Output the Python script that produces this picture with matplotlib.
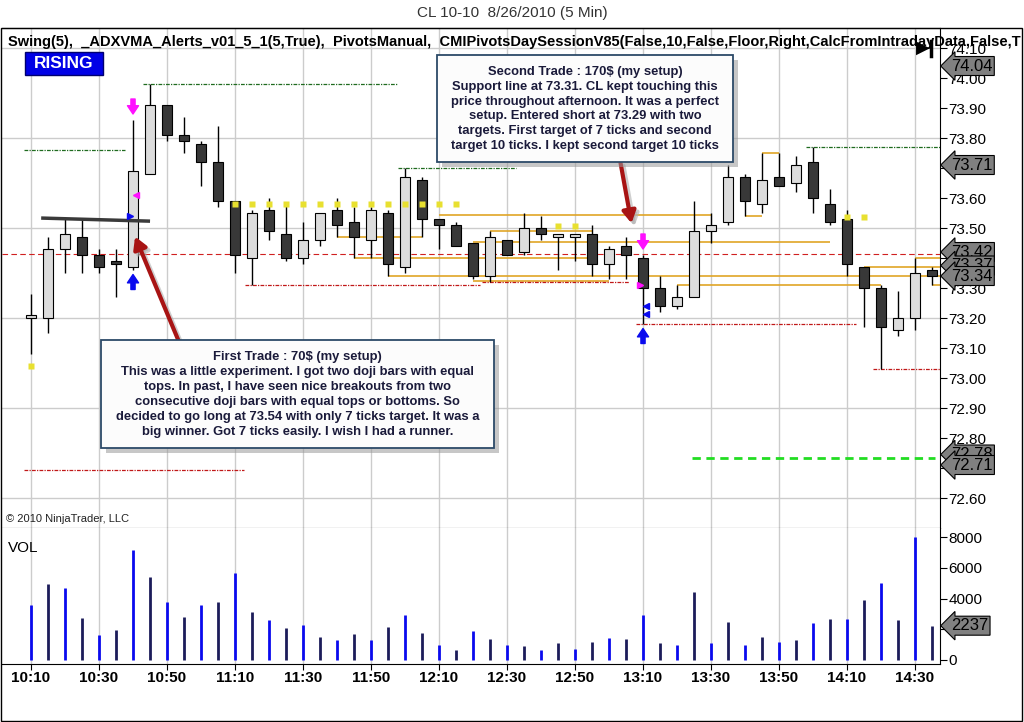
import numpy as np
import matplotlib
matplotlib.use('Agg')
import matplotlib.pyplot as plt
import matplotlib.patches as mpatches
import matplotlib.transforms as mtransforms
from matplotlib.lines import Line2D

plt.rcParams['font.family'] = ['Liberation Sans', 'DejaVu Sans']

# --- data, one bar per 5 minutes from 10:10 to 14:35 ---
opens = [73.20, 73.20, 73.43, 73.47, 73.41, 73.39, 73.37, 73.68, 73.91, 73.81,
         73.78, 73.72, 73.59, 73.40, 73.56, 73.48, 73.40, 73.46, 73.56, 73.52,
         73.46, 73.55, 73.37, 73.66, 73.53, 73.51, 73.45, 73.34, 73.46, 73.42,
         73.50, 73.47, 73.47, 73.48, 73.38, 73.44, 73.40, 73.30, 73.24, 73.27,
         73.49, 73.52, 73.67, 73.58, 73.67, 73.65, 73.72, 73.58, 73.53, 73.37,
         73.30, 73.16, 73.20, 73.36]
highs = [73.28, 73.47, 73.53, 73.53, 73.43, 73.43, 73.86, 73.98, 73.91, 73.87,
         73.79, 73.84, 73.59, 73.56, 73.60, 73.58, 73.52, 73.55, 73.60, 73.57,
         73.57, 73.56, 73.70, 73.67, 73.53, 73.52, 73.45, 73.49, 73.46, 73.55,
         73.54, 73.48, 73.48, 73.51, 73.44, 73.47, 73.41, 73.34, 73.31, 73.59,
         73.55, 73.71, 73.68, 73.75, 73.75, 73.74, 73.77, 73.63, 73.56, 73.37,
         73.31, 73.29, 73.40, 73.37]
lows = [73.08, 73.15, 73.35, 73.35, 73.35, 73.27, 73.36, 73.68, 73.79, 73.75,
        73.64, 73.57, 73.35, 73.31, 73.46, 73.39, 73.38, 73.44, 73.47, 73.40,
        73.40, 73.34, 73.35, 73.47, 73.43, 73.44, 73.33, 73.32, 73.41, 73.41,
        73.46, 73.36, 73.39, 73.34, 73.33, 73.33, 73.18, 73.22, 73.23, 73.27,
        73.45, 73.51, 73.54, 73.55, 73.64, 73.62, 73.55, 73.51, 73.34, 73.17,
        73.03, 73.14, 73.16, 73.31]
closes = [73.21, 73.43, 73.48, 73.41, 73.37, 73.38, 73.69, 73.91, 73.81, 73.79,
          73.72, 73.59, 73.41, 73.55, 73.49, 73.40, 73.46, 73.55, 73.51, 73.47,
          73.56, 73.38, 73.67, 73.53, 73.51, 73.44, 73.34, 73.47, 73.41, 73.50,
          73.48, 73.48, 73.48, 73.38, 73.43, 73.41, 73.30, 73.24, 73.27, 73.49,
          73.51, 73.67, 73.59, 73.66, 73.64, 73.71, 73.60, 73.52, 73.38, 73.30,
          73.17, 73.20, 73.35, 73.34]
volumes = [3600, 4950, 4700, 2740, 1630, 1960, 7170, 5410, 3780, 2800,
           3590, 3780, 5670, 3130, 2610, 2090, 2280, 1500, 1300, 1700,
           1300, 2150, 2940, 1760, 980, 650, 1890, 1370, 980, 910,
           650, 1110, 720, 1170, 1440, 1370, 2940, 1110, 980, 4440,
           1110, 2480, 980, 1500, 1170, 1300, 2410, 2670, 2670, 3910,
           5020, 2610, 8020, 2237]
time_labels = ['10:10', '10:30', '10:50', '11:10', '11:30', '11:50', '12:10',
               '12:30', '12:50', '13:10', '13:30', '13:50', '14:10', '14:30']

# indicator levels: (first bar, last bar, price)
gold_levels = [(18, 23, 73.47), (19, 33, 73.40), (21, 54, 73.34), (24, 40, 73.545),
               (27, 33, 73.49), (26, 47, 73.455), (26, 34, 73.325), (38, 50, 73.31),
               (49, 54, 73.37), (52, 54, 73.40), (42, 43, 73.54), (43, 44, 73.75),
               (53, 54, 73.31)]
green_levels = [(-0.4, 5.5, 73.76), (6.6, 21.5, 73.98), (21.6, 28.5, 73.70),
                (45.6, 54, 73.77)]
red_levels = [(-0.4, 12.5, 72.693), (12.6, 26.4, 73.31), (26.5, 35.2, 73.32),
              (35.6, 48.5, 73.18), (49.5, 54, 73.03)]
pivot_line = 73.415
target_line = (38.9, 53.2, 72.733)
swing_high_bars = [12, 13, 14, 15, 16, 17, 18, 19, 20, 21, 22, 23, 24, 25, 31, 32, 48, 49]
swing_high_vals = [73.58] * 14 + [73.507, 73.507, 73.537, 73.537]
swing_low_bars = [0]
swing_low_vals = [73.04]
trend_line_x = [0.7, 6.9]
trend_line_y = [73.533, 73.523]
price_markers = ['74.04', '73.71', '73.42', '73.37', '73.34', '72.78', '72.71']
price_marker_y = [74.04, 73.71, 73.42, 73.375, 73.34, 72.745, 72.71]

W, H = 1024, 722


def fx(x):
    return x / W


def fy(y):
    return 1 - y / H


fig = plt.figure(figsize=(10.24, 7.22), dpi=100, facecolor='white')
ax = fig.add_axes([fx(2), fy(528), 938 / W, 500 / H])
vax = fig.add_axes([fx(2), fy(664), 938 / W, 136 / H])

n = len(opens)
x = np.arange(n)
xlim = (-1.706, 53.47)

# --- price panel ---
ax.set_xlim(*xlim)
ax.set_ylim(72.50, 74.1667)
for lvl in [72.6, 72.9, 73.2, 73.5, 73.8, 74.1]:
    ax.axhline(lvl, color='#cccccc', lw=1, zorder=0)
ax.set_xticks(np.arange(0, n, 4))
ax.grid(axis='x', color='#cccccc', lw=1, zorder=0)
ax.set_axisbelow(True)

ax.vlines(x, lows, highs, color='black', lw=1, zorder=3)
for i in range(n):
    lo, hi = min(opens[i], closes[i]), max(opens[i], closes[i])
    fc = '#dcdcdc' if closes[i] >= opens[i] else '#383838'
    ax.add_patch(mpatches.Rectangle((i - 0.3, lo), 0.6, max(hi - lo, 0.004),
                                    fc=fc, ec='black', lw=0.8, zorder=4))

for a, b, p in gold_levels:
    ax.hlines(p, a, b, color='#e0a526', lw=1.2, zorder=2)
for a, b, p in green_levels:
    ax.hlines(p, a, b, color='#1f6b1f', lw=0.9, linestyles=(0, (3, 1, 1, 1)), zorder=2)
for a, b, p in red_levels:
    ax.hlines(p, a, b, color='#c01818', lw=0.9, linestyles=(0, (3, 1, 1, 1)), zorder=2)
ax.axhline(pivot_line, color='#d02020', lw=0.8, ls=(0, (5, 3)), zorder=2)
ax.hlines(target_line[2], target_line[0], target_line[1], color='#22dd22', lw=2,
          linestyles=(0, (3, 2)), zorder=2)
ax.plot(swing_high_bars, swing_high_vals, 's', color='#e8e030', ms=4, mec='none', zorder=5)
ax.plot(swing_low_bars, swing_low_vals, 's', color='#e8e030', ms=4, mec='none', zorder=5)
ax.plot(trend_line_x, trend_line_y, color='#3a3a3a', lw=2.5, zorder=6)

# signal arrows
arrow_kw = dict(arrowstyle='simple,head_width=0.8,tail_width=0.3,head_length=0.6',
                mutation_scale=10, shrinkA=0, shrinkB=0)
ax.annotate('', xy=(6, 73.88), xytext=(6, 73.93),
            arrowprops=dict(color='#ff10ff', **arrow_kw), zorder=6)
ax.annotate('', xy=(36, 73.43), xytext=(36, 73.48),
            arrowprops=dict(color='#ff10ff', **arrow_kw), zorder=6)
ax.annotate('', xy=(6, 73.345), xytext=(6, 73.295),
            arrowprops=dict(color='#0a0aee', **arrow_kw), zorder=6)
ax.annotate('', xy=(36, 73.165), xytext=(36, 73.115),
            arrowprops=dict(color='#0a0aee', **arrow_kw), zorder=6)
ax.plot([6.15], [73.61], '<', color='#ff10ff', ms=5, zorder=6)
ax.plot([5.85], [73.54], '>', color='#0a0aee', ms=5, zorder=6)
ax.plot([35.8], [73.31], '>', color='#ff10ff', ms=5, zorder=6)
ax.plot([36.2, 36.2], [73.24, 73.215], '<', color='#0a0aee', ms=5, zorder=6)

yt = np.round(np.arange(72.6, 74.11, 0.1), 2)
ax.set_yticks(yt)
ax.set_yticklabels([f'{v:.2f}' for v in yt])
ax.tick_params(axis='y', left=False, labelleft=False, right=True, labelright=True,
               direction='out', length=5, pad=1, labelsize=11, colors='black')
ax.tick_params(axis='x', length=0, labelbottom=False)
ax.spines['left'].set_visible(False)

mtr = mtransforms.blended_transform_factory(ax.transAxes, ax.transData)
for lab, yv in zip(price_markers, price_marker_y):
    ax.text(1.0115, yv, lab, transform=mtr, fontsize=12, ha='left', va='center',
            clip_on=False, zorder=10,
            bbox=dict(boxstyle='larrow,pad=0.12', fc='#808080', ec='black', lw=0.8))

# --- volume panel ---
vax.set_xlim(*xlim)
vax.set_ylim(-261, 8606)
vcols = ['#0a0aee' if i % 2 == 0 else '#1c1c5a' for i in range(n)]
vax.vlines(x, 0, volumes, colors=vcols, lw=2, zorder=3)
vax.set_xticks(np.arange(0, n, 4))
vax.set_xticklabels(time_labels)
vax.grid(axis='x', color='#cccccc', lw=1, zorder=0)
vax.set_axisbelow(True)
vax.set_yticks([0, 2000, 4000, 6000, 8000])
vax.tick_params(axis='y', left=False, labelleft=False, right=True, labelright=True,
                direction='out', length=5, pad=1, labelsize=11)
vax.tick_params(axis='x', direction='out', length=4, pad=1, labelsize=11)
for lab in vax.get_xticklabels():
    lab.set_fontweight('bold')
vax.spines['left'].set_visible(False)
vax.spines['top'].set_visible(False)
vtr = mtransforms.blended_transform_factory(vax.transAxes, vax.transData)
vax.text(1.0115, volumes[-1], str(volumes[-1]), transform=vtr, fontsize=12, ha='left',
         va='center', clip_on=False, zorder=10,
         bbox=dict(boxstyle='larrow,pad=0.12', fc='#808080', ec='black', lw=0.8))
vax.text(0.0065, 0.85, 'VOL', transform=vax.transAxes, fontsize=11, ha='left', va='center')

# --- frame, header and overlays ---
fig.add_artist(mpatches.Rectangle((fx(1), fy(721)), 1021 / W, 693 / H, fill=False,
                                  ec='black', lw=1, transform=fig.transFigure, zorder=1))
fig.text(0.5, fy(13), 'CL 10-10  8/26/2010 (5 Min)', ha='center', va='center',
         fontsize=11, color='#333333')
fig.text(fx(8), fy(42), 'Swing(5),  _ADXVMA_Alerts_v01_5_1(5,True),  PivotsManual,  '
         'CMIPivotsDaySessionV85(False,10,False,Floor,Right,CalcFromIntradayData,False,T',
         ha='left', va='center', fontsize=10.5, fontweight='bold', zorder=8)
fig.add_artist(mpatches.Rectangle((fx(25), fy(75)), 78 / W, 23 / H, fc='#0000e6',
                                  ec='#000070', lw=1, transform=fig.transFigure, zorder=8))
fig.text(fx(64), fy(63.5), 'RISING', ha='center', va='center', fontsize=12.5,
         fontweight='bold', color='white', zorder=9)
fig.text(fx(916), fy(48), '▶', ha='left', va='center', fontsize=13, color='black', zorder=9)
fig.add_artist(Line2D([fx(931), fx(931)], [fy(41), fy(56)], color='black', lw=2.5,
                      transform=fig.transFigure, zorder=9))
fig.text(fx(6), fy(519), '© 2010 NinjaTrader, LLC', ha='left', va='center', fontsize=8,
         color='#222222', zorder=8)

# comment arrows
for (x0, y0), (x1, y1) in [((182, 349), (134, 234)), ((620, 160), (632, 226))]:
    fig.add_artist(mpatches.FancyArrowPatch((fx(x0 + 3), fy(y0 + 3)), (fx(x1 + 3), fy(y1 + 3)),
                                            transform=fig.transFigure,
                                            arrowstyle='-|>,head_length=7,head_width=4',
                                            color='#b0b0b0', lw=3, alpha=0.6, zorder=7))
    fig.add_artist(mpatches.FancyArrowPatch((fx(x0), fy(y0)), (fx(x1), fy(y1)),
                                            transform=fig.transFigure,
                                            arrowstyle='-|>,head_length=7,head_width=4',
                                            color='#a81414', lw=3, zorder=7.5))

notes = [
    ((101, 340, 494, 448),
     'First Trade : 70$ (my setup)\n'
     'This was a little experiment. I got two doji bars with equal\n'
     'tops. In past, I have seen nice breakouts from two\n'
     'consecutive doji bars with equal tops or bottoms. So\n'
     'decided to go long at 73.54 with only 7 ticks target. It was a\n'
     'big winner. Got 7 ticks easily. I wish I had a runner.'),
    ((437, 55, 733, 162),
     'Second Trade : 170$ (my setup)\n'
     'Support line at 73.31. CL kept touching this\n'
     'price throughout afternoon. It was a perfect\n'
     'setup. Entered short at 73.29 with two\n'
     'targets. First target of 7 ticks and second\n'
     'target 10 ticks. I kept second target 10 ticks'),
]
for (x0, y0, x1, y1), txt in notes:
    fig.add_artist(mpatches.Rectangle((fx(x0 + 5), fy(y1 + 5)), (x1 - x0) / W, (y1 - y0) / H,
                                      fc='#9a9a9a', ec='none', alpha=0.55,
                                      transform=fig.transFigure, zorder=8))
    fig.add_artist(mpatches.Rectangle((fx(x0), fy(y1)), (x1 - x0) / W, (y1 - y0) / H,
                                      fc='#fcfcfc', ec='#2c4a68', lw=1.3,
                                      transform=fig.transFigure, zorder=8.5))
    fig.text(fx((x0 + x1) / 2), fy((y0 + y1) / 2 + 0.5), txt, ha='center', va='center',
             fontsize=9.4, fontweight='bold', color='#1a1a3a', linespacing=1.32, zorder=9)

fig.savefig('out.png', dpi=100)
